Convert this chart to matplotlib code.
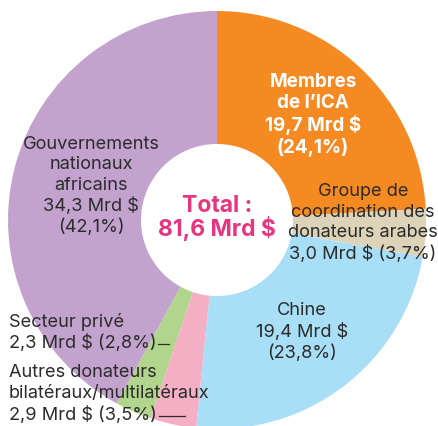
import matplotlib.pyplot as plt

# données
labels = ["Membres de l'ICA", "Groupe de coordination des donateurs arabes", "Chine",
          "Autres donateurs bilatéraux/multilatéraux", "Secteur privé",
          "Gouvernements nationaux africains"]
values = [19.7, 3.0, 19.4, 2.9, 2.3, 34.3]
pcts = [24.1, 3.7, 23.8, 3.5, 2.8, 42.1]  # tels qu'indiqués sur le graphique
colors = ["#F58A22", "#DDD3B9", "#A8DEF6", "#F5AFC4", "#B2D58D", "#C3A3CE"]

total = 81.6

def fmt(v):
    return f"{v:.1f}".replace(".", ",")

plt.rcParams['font.family'] = ['Inter', 'DejaVu Sans']

W, H = 439, 426
fig = plt.figure(figsize=(W / 100, H / 100), dpi=100)
ax = fig.add_axes([0, 0, 1, 1])

# centre du donut en pixels (origine en bas à gauche)
cx, cy, R = 217, 206, 209
ax.pie(values, colors=colors, startangle=90, counterclock=False,
       center=(cx, cy), radius=R, wedgeprops=dict(width=R - 76, linewidth=0))
ax.set_xlim(0, W)
ax.set_ylim(0, H)
ax.set_aspect('equal')
ax.axis('off')

txt = "#2B2B2B"
fs = 13.1
ls = 1.27

def y(py):
    return H - py

ax.text(313, y(115), f"Membres\nde l’ICA\n{fmt(values[0])} Mrd $\n({fmt(pcts[0])}%)",
        ha='center', va='center', color='white', fontsize=13.6, fontweight='bold',
        linespacing=1.22)

ax.text(217, y(218), f"Total :\n{fmt(total)} Mrd $", ha='center', va='center',
        color='#E8357F', fontsize=16.5, fontweight='bold', linespacing=0.98)

ax.text(91, y(186), f"Gouvernements\nnationaux\nafricains\n{fmt(values[5])} Mrd $\n({fmt(pcts[5])}%)",
        ha='center', va='center', color=txt, fontsize=fs, linespacing=ls)

ax.text(363, y(223), f"Groupe de\ncoordination des\ndonateurs arabes\n{fmt(values[1])} Mrd $ ({fmt(pcts[1])}%)",
        ha='center', va='center', color=txt, fontsize=fs, linespacing=ls)

ax.text(302, y(332), f"Chine\n{fmt(values[2])} Mrd $\n({fmt(pcts[2])}%)",
        ha='center', va='center', color=txt, fontsize=fs, linespacing=ls)

# étiquettes à gauche, avec un trait après la dernière ligne
ax.text(9, y(322), "Secteur privé", ha='left', va='center', color=txt, fontsize=fs)
t1 = ax.text(9, y(343), f"{fmt(values[4])} Mrd $ ({fmt(pcts[4])}%)",
             ha='left', va='center', color=txt, fontsize=fs)
ax.text(9, y(383), "Autres donateurs\nbilatéraux/multilatéraux", ha='left', va='center',
        color=txt, fontsize=fs, linespacing=ls)
t2 = ax.text(9, y(415), f"{fmt(values[3])} Mrd $ ({fmt(pcts[3])}%)",
             ha='left', va='center', color=txt, fontsize=fs)

fig.canvas.draw()
r = fig.canvas.get_renderer()
for t, ln in [(t1, 11), (t2, 26)]:
    x0 = t.get_window_extent(r).x1 + 2
    ax.plot([x0, x0 + ln], [t.get_position()[1] - 1] * 2, color=txt, lw=0.9)

fig.savefig("out.png", dpi=100)
